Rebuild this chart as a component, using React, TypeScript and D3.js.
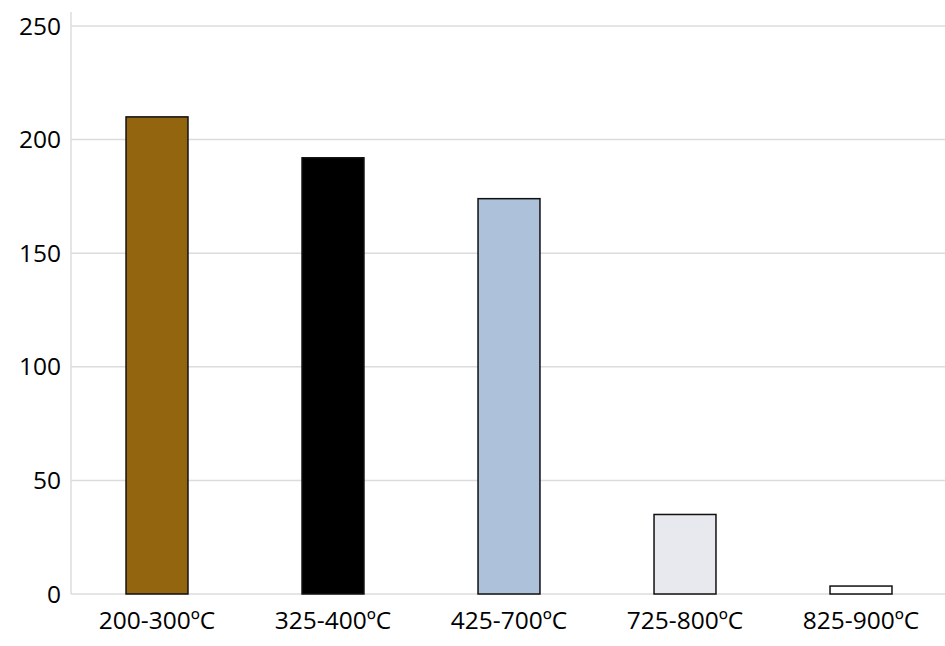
import React, { useEffect, useRef } from 'react';
import * as d3 from 'd3';

const categories = ['200-300ºC', '325-400ºC', '425-700ºC', '725-800ºC', '825-900ºC'];
const values = [210, 192, 174, 35, 3.5];
const barColors = ['#94650f', '#000000', '#adc1da', '#e8e9ee', '#ffffff'];
const yTicks = [0, 50, 100, 150, 200, 250];

const W = 945;
const H = 646;

const App = () => {
  const ref = useRef<SVGSVGElement | null>(null);

  useEffect(() => {
    if (!ref.current) return;
    const svg = d3.select(ref.current);
    svg.selectAll('*').remove();

    const x = d3.scaleBand().domain(categories).range([69, 949]).paddingInner(0.648).paddingOuter(0.324);
    const y = d3.scaleLinear().domain([0, 250]).range([594, 26]);

    // gridlines
    svg.append('g')
      .selectAll('line')
      .data(yTicks)
      .enter()
      .append('line')
      .attr('x1', 71)
      .attr('x2', W)
      .attr('y1', d => y(d))
      .attr('y2', d => y(d))
      .attr('stroke', '#dcdcdc')
      .attr('stroke-width', 1.5);

    // left axis line
    svg.append('line')
      .attr('x1', 71).attr('x2', 71)
      .attr('y1', 12).attr('y2', y(0))
      .attr('stroke', '#dcdcdc')
      .attr('stroke-width', 1.5);

    // y labels
    svg.append('g')
      .selectAll('text')
      .data(yTicks)
      .enter()
      .append('text')
      .attr('x', 61)
      .attr('y', d => y(d))
      .attr('dy', '0.35em')
      .attr('text-anchor', 'end')
      .attr('font-family', 'Open Sans')
      .attr('font-size', 24.5)
      .attr('fill', '#000')
      .text(d => d);

    // bars
    svg.append('g')
      .selectAll('rect')
      .data(values)
      .enter()
      .append('rect')
      .attr('x', (d, i) => x(categories[i])!)
      .attr('y', d => y(d))
      .attr('width', x.bandwidth())
      .attr('height', d => y(0) - y(d))
      .attr('fill', (d, i) => barColors[i])
      .attr('stroke', '#111')
      .attr('stroke-width', 1.5);

    // x labels
    svg.append('g')
      .selectAll('text')
      .data(categories)
      .enter()
      .append('text')
      .attr('x', d => x(d)! + x.bandwidth() / 2)
      .attr('y', 629)
      .attr('text-anchor', 'middle')
      .attr('font-family', 'Open Sans')
      .attr('font-size', 24.5)
      .attr('fill', '#000')
      .text(d => d);
  }, []);

  return (
    <div style={{ position: 'absolute', left: 0, top: 0 }}>
      <svg ref={ref} width={W} height={H} style={{ display: 'block', background: '#fff' }} />
    </div>
  );
};

export default App;
